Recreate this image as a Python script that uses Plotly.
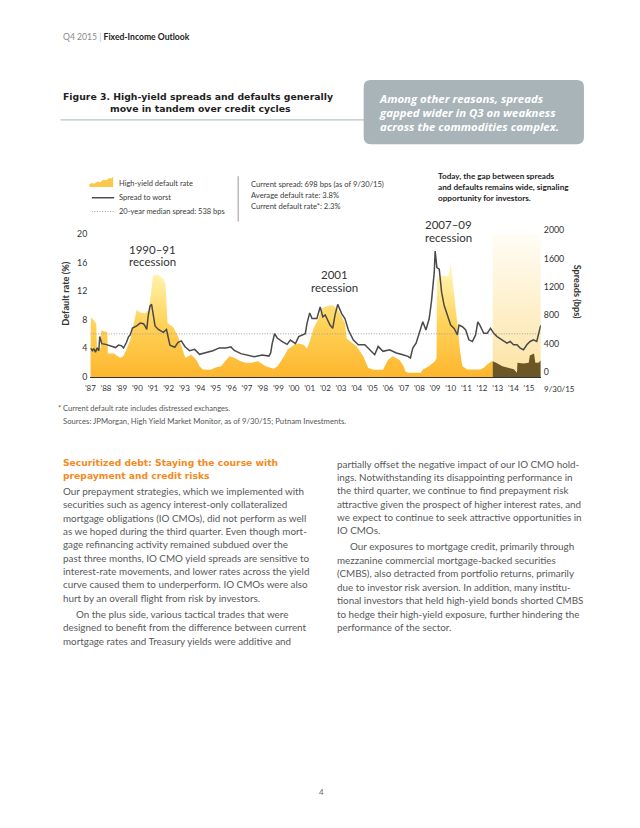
import plotly.graph_objects as go

W, H = 640, 828
FONT = "Lato"
BOLD_FONT = "DejaVu Sans"

# ---------------- data ----------------
default_years = [1987.0, 1987.03, 1987.2, 1987.38, 1987.42, 1987.66, 1987.69, 1988.08, 1988.12, 1988.5,
                 1988.9, 1989.1, 1989.3, 1989.55, 1989.75, 1989.86, 1989.96, 1990.18, 1990.5, 1990.7,
                 1990.87, 1991.0, 1991.33, 1991.65, 1991.8, 1991.93, 1992.28, 1992.6, 1992.9, 1993.06,
                 1993.44, 1993.76, 1993.97, 1994.18, 1994.7, 1994.93, 1995.34, 1995.66, 1995.87, 1996.19,
                 1996.6, 1996.9, 1997.3, 1997.7, 1998.2, 1998.7, 1998.95, 1999.37, 1999.58, 2000.0,
                 2000.3, 2000.63, 2000.83, 2001.04, 2001.25, 2001.57, 2001.78, 2002.2, 2002.5, 2002.73,
                 2002.94, 2003.25, 2003.36, 2003.57, 2003.99, 2004.42, 2004.73, 2005.05, 2005.68, 2006.0,
                 2006.3, 2006.72, 2007.0, 2007.1, 2007.27, 2008.1, 2008.2, 2008.6, 2009.0, 2009.1,
                 2009.12, 2009.43, 2009.85, 2010.0, 2010.06, 2010.2, 2010.43, 2010.6, 2010.75, 2011.07,
                 2011.9, 2012.11, 2012.33, 2012.54, 2012.68, 2012.9, 2013.3, 2013.72, 2014.03, 2014.23,
                 2014.26, 2014.65, 2014.98, 2015.05, 2015.32, 2015.4, 2015.6, 2015.75]
default_rate = [3.8, 8.3, 8.0, 7.4, 4.2, 4.0, 6.5, 6.3, 3.3, 3.3,
                2.7, 2.9, 3.8, 5.2, 7.3, 8.6, 9.4, 9.0, 8.9, 9.3,
                11.6, 14.2, 14.3, 13.7, 13.0, 7.5, 7.0, 5.7, 3.8, 2.7,
                3.1, 2.4, 1.5, 1.05, 1.0, 1.3, 1.5, 2.4, 2.9, 2.7,
                2.2, 2.0, 2.0, 2.2, 1.5, 1.15, 1.5, 2.9, 3.8, 4.5,
                4.7, 4.5, 4.0, 5.2, 6.8, 8.2, 9.6, 10.0, 10.0, 9.6,
                8.9, 7.5, 5.4, 5.0, 4.3, 2.9, 1.3, 1.0, 1.0, 2.4,
                2.9, 2.4, 1.5, 0.8, 0.6, 0.6, 1.0, 1.5, 2.2, 2.7,
                13.7, 14.2, 14.0, 16.0, 14.6, 11.9, 7.3, 3.6, 1.5, 1.05,
                1.05, 1.3, 1.75, 2.1, 2.2, 2.0, 1.5, 1.3, 1.1, 0.6,
                2.0, 1.9, 2.0, 3.0, 3.3, 2.0, 2.0, 2.3]

spread_years = [1987.01, 1987.13, 1987.22, 1987.33, 1987.43, 1987.54, 1987.6, 1987.73, 1987.98, 1988.28,
                1988.61, 1988.8, 1989.0, 1989.12, 1989.31, 1989.44, 1989.54, 1989.69, 1989.86, 1989.96,
                1990.18, 1990.39, 1990.49, 1990.6, 1990.7, 1990.81, 1990.91, 1990.97, 1991.13, 1991.34,
                1991.66, 1991.86, 1991.97, 1992.08, 1992.39, 1992.6, 1992.81, 1993.03, 1993.34, 1993.66,
                1993.97, 1994.39, 1994.82, 1995.24, 1995.66, 1995.97, 1996.19, 1996.61, 1997.03, 1997.46,
                1997.98, 1998.4, 1998.51, 1998.61, 1998.76, 1998.93, 1999.25, 1999.56, 1999.77, 2000.09,
                2000.3, 2000.72, 2000.83, 2001.0, 2001.15, 2001.46, 2001.67, 2001.84, 2001.99, 2002.3,
                2002.47, 2002.62, 2002.79, 2003.04, 2003.25, 2003.47, 2003.78, 2004.1, 2004.52, 2004.84,
                2005.15, 2005.37, 2005.68, 2006.1, 2006.53, 2006.95, 2007.27, 2007.43, 2007.58, 2007.79,
                2008.0, 2008.22, 2008.42, 2008.63, 2008.78, 2008.95, 2009.01, 2009.12, 2009.27, 2009.42,
                2009.58, 2009.8, 2010.0, 2010.22, 2010.43, 2010.53, 2010.75, 2010.96, 2011.16, 2011.38,
                2011.59, 2011.73, 2011.86, 2012.11, 2012.33, 2012.54, 2012.75, 2012.96, 2013.28, 2013.59,
                2013.8, 2014.01, 2014.23, 2014.44, 2014.65, 2014.86, 2015.07, 2015.28, 2015.49, 2015.59,
                2015.75]
spread_bps = [338, 300, 330, 280, 340, 300, 500, 400, 390, 370,
              345, 380, 370, 340, 420, 500, 520, 620, 640, 650,
              690, 680, 650, 600, 800, 930, 955, 880, 650, 600,
              560, 600, 490, 380, 350, 420, 440, 360, 300, 320,
              250, 270, 300, 340, 340, 355, 305, 260, 235, 215,
              240, 225, 270, 405, 540, 480, 430, 390, 450, 400,
              500, 540, 685, 833, 755, 755, 917, 778, 805, 662,
              615, 805, 953, 824, 755, 593, 454, 385, 385, 315,
              245, 361, 292, 315, 268, 245, 222, 199, 338, 407,
              546, 708, 593, 754, 1010, 1403, 1704, 1472, 1449, 1125,
              940, 801, 662, 615, 523, 662, 639, 593, 454, 431,
              523, 708, 662, 546, 546, 615, 546, 500, 454, 407,
              431, 385, 385, 338, 315, 385, 431, 454, 431, 523,
              660]

MEDIAN_SPREAD = 538
HIGHLIGHT_START = 2012.68
DATA_START = 1987.0
DATA_END = 2015.75
HIGHLIGHT_TOP = 20.1

left_ticks = [0, 4, 8, 12, 16, 20]
right_ticks = [0, 400, 800, 1200, 1600, 2000]
year_ticks = list(range(1987, 2016))
year_labels = ["'" + str(y)[2:] for y in year_ticks]

title_lines = ["Figure 3. High-yield spreads and defaults generally", "move in tandem over credit cycles"]
legend_labels = ["High-yield default rate", "Spread to worst", "20-year median spread: 538 bps"]
stats_lines = ["Current spread: 698 bps (as of 9/30/15)", "Average default rate: 3.8%",
               "Current default rate*: 2.3%"]
today_lines = ["Today, the gap between spreads", "and defaults remains wide, signaling",
               "opportunity for investors."]
callout_lines = ["Among other reasons, spreads", "gapped wider in Q3 on weakness",
                 "across the commodities complex."]
heading_lines = ["Securitized debt: Staying the course with", "prepayment and credit risks"]

left_p1 = [
    "Our prepayment strategies, which we implemented with",
    "securities such as agency interest-only collateralized",
    "mortgage obligations (IO CMOs), did not perform as well",
    "as we hoped during the third quarter. Even though mort-",
    "gage refinancing activity remained subdued over the",
    "past three months, IO CMO yield spreads are sensitive to",
    "interest-rate movements, and lower rates across the yield",
    "curve caused them to underperform. IO CMOs were also",
    "hurt by an overall flight from risk by investors.",
]
left_p2 = [
    "On the plus side, various tactical trades that were",
    "designed to benefit from the difference between current",
    "mortgage rates and Treasury yields were additive and",
]
right_p1 = [
    "partially offset the negative impact of our IO CMO hold-",
    "ings. Notwithstanding its disappointing performance in",
    "the third quarter, we continue to find prepayment risk",
    "attractive given the prospect of higher interest rates, and",
    "we expect to continue to seek attractive opportunities in",
    "IO CMOs.",
]
right_p2 = [
    "Our exposures to mortgage credit, primarily through",
    "mezzanine commercial mortgage-backed securities",
    "(CMBS), also detracted from portfolio returns, primarily",
    "due to investor risk aversion. In addition, many institu-",
    "tional investors that held high-yield bonds shorted CMBS",
    "to hedge their high-yield exposure, further hindering the",
    "performance of the sector.",
]

# ---------------- helpers ----------------
def px(x):
    return x / W


def py(y):
    return 1 - y / H


annotations = []


def txt(x, y, s, size, color="#333333", anchor="left", angle=0, family=FONT, align="left"):
    annotations.append(dict(x=px(x), y=py(y), xref="paper", yref="paper", text=s, showarrow=False,
                            xanchor=anchor, yanchor="middle", textangle=angle, align=align,
                            font=dict(family=family, size=size, color=color)))


def block(x, y_first, lines, size, spacing, color, family=FONT, bold=False, italic=False):
    """Multi-line text as one annotation; line pitch set by base font size, glyph size by span."""
    parts = []
    for s in lines:
        if bold:
            s = f"<b>{s}</b>"
        if italic:
            s = f"<i>{s}</i>"
        parts.append(f"<span style='font-size:{size}px'>{s}</span>")
    y_mid = y_first + spacing * (len(lines) - 1) / 2
    annotations.append(dict(x=px(x), y=py(y_mid), xref="paper", yref="paper", text="<br>".join(parts),
                            showarrow=False, xanchor="left", yanchor="middle", align="left",
                            font=dict(family=family, size=spacing / 1.3, color=color)))


DOT = "1px,1.6px"

# ---------------- traces ----------------
fig = go.Figure()

# highlight band (recent period)
fig.add_trace(go.Scatter(
    x=[HIGHLIGHT_START, DATA_END, DATA_END, HIGHLIGHT_START, HIGHLIGHT_START],
    y=[0, 0, HIGHLIGHT_TOP, HIGHLIGHT_TOP, 0],
    fill="toself", mode="lines", line=dict(width=0, color="rgba(0,0,0,0)"),
    fillgradient=dict(type="vertical", colorscale=[[0, "#fce3a2"], [1, "#fffdf6"]],
                      start=0, stop=HIGHLIGHT_TOP),
    hoverinfo="skip", showlegend=False))

split = default_years.index(HIGHLIGHT_START)
fig.add_trace(go.Scatter(
    x=default_years[:split + 1], y=default_rate[:split + 1],
    fill="tozeroy", mode="lines", line=dict(width=0, color="rgba(0,0,0,0)"),
    fillgradient=dict(type="vertical",
                      colorscale=[[0, "#fdb52c"], [0.5, "#ffd258"], [1, "#fff6b4"]],
                      start=0, stop=15),
    hoverinfo="skip", showlegend=False))
fig.add_trace(go.Scatter(
    x=default_years[split:], y=default_rate[split:],
    fill="tozeroy", mode="lines", line=dict(width=0, color="rgba(0,0,0,0)"),
    fillcolor="#6d5625", hoverinfo="skip", showlegend=False))

fig.add_trace(go.Scatter(
    x=[DATA_START, DATA_END], y=[MEDIAN_SPREAD, MEDIAN_SPREAD], yaxis="y2",
    mode="lines", line=dict(color="#a0a0a0", width=1, dash=DOT),
    hoverinfo="skip", showlegend=False))

fig.add_trace(go.Scatter(
    x=spread_years, y=spread_bps, yaxis="y2", mode="lines",
    line=dict(color="#4a4a4a", width=1.5), hoverinfo="skip", showlegend=False))

# ---------------- shapes ----------------
shapes = []
# rule under figure title
shapes.append(dict(type="line", xref="paper", yref="paper", x0=px(56), x1=px(362), y0=py(115.5), y1=py(115.5),
                   line=dict(color="#b9c4c7", width=1.2)))
# callout box with rounded corners
x0, x1, y0, y1, r = 361.5, 583.5, 75, 140, 7
path = (f"M {px(x0 + r)},{py(y0)} L {px(x1 - r)},{py(y0)} Q {px(x1)},{py(y0)} {px(x1)},{py(y0 + r)} "
        f"L {px(x1)},{py(y1 - r)} Q {px(x1)},{py(y1)} {px(x1 - r)},{py(y1)} "
        f"L {px(x0 + r)},{py(y1)} Q {px(x0)},{py(y1)} {px(x0)},{py(y1 - r)} "
        f"L {px(x0)},{py(y0 + r)} Q {px(x0)},{py(y0)} {px(x0 + r)},{py(y0)} Z")
shapes.append(dict(type="path", xref="paper", yref="paper", path=path, fillcolor="#a8b4b8",
                   line=dict(width=0)))
# legend swatches
mpts = [(85, 183.5), (85, 180.5), (88, 179.5), (90, 180.2), (93, 177.8), (96, 178.5), (99, 176),
        (102, 176.6), (105, 174.3), (107, 174.8), (109, 173), (109, 183.5)]
mpath = "M " + " L ".join(f"{px(a)},{py(b)}" for a, b in mpts) + " Z"
shapes.append(dict(type="path", xref="paper", yref="paper", path=mpath, fillcolor="#fdc94c",
                   line=dict(width=0)))
shapes.append(dict(type="line", xref="paper", yref="paper", x0=px(87.5), x1=px(110), y0=py(194.3), y1=py(194.3),
                   line=dict(color="#4a4a4a", width=1.5)))
shapes.append(dict(type="line", xref="paper", yref="paper", x0=px(87.5), x1=px(110), y0=py(208.3), y1=py(208.3),
                   line=dict(color="#a0a0a0", width=1, dash=DOT)))
# divider
shapes.append(dict(type="line", xref="paper", yref="paper", x0=px(235), x1=px(235), y0=py(172.5), y1=py(218.5),
                   line=dict(color="#999999", width=1)))

# ---------------- text ----------------
txt(56.5, 31.7, "<span style='color:#8a8a8a'>Q4 2015</span> <span style='color:#bbbbbb'>|</span> "
                "<b>Fixed-Income Outlook</b>", 8.6, "#222222")
# figure title (second line indented)
txt(56.5, 91.4, f"<b>{title_lines[0]}</b>", 9.3, "#1e1e1e", family=BOLD_FONT)
txt(104, 103.7, f"<b>{title_lines[1]}</b>", 9.3, "#1e1e1e", family=BOLD_FONT)
block(374.5, 94.3, callout_lines, 11.4, 14, "#ffffff", family="Open Sans", bold=True, italic=True)

for i, s in enumerate(legend_labels):
    txt(113, 180.3 + 14 * i, s, 7.5, "#3a3a3a")
for i, s in enumerate(stats_lines):
    txt(246, 180.3 + 11 * i, s, 7.6, "#3a3a3a")
for i, s in enumerate(today_lines):
    txt(434, 172.7 + 11 * i, f"<b>{s}</b>", 8.2, "#1e1e1e")

txt(148.3, 246.7, "1990–91", 11.5, "#333333", anchor="center")
txt(148.3, 259, "recession", 11.5, "#333333", anchor="center")
txt(331.7, 272, "2001", 11.5, "#333333", anchor="center")
txt(331.7, 285.3, "recession", 11.5, "#333333", anchor="center")
txt(446.7, 221.7, "2007–09", 11.5, "#333333", anchor="center")
txt(446.7, 234.5, "recession", 11.5, "#333333", anchor="center")

txt(61, 292, "<b>Default rate (%)</b>", 9.2, "#333333", anchor="center", angle=-90)
txt(577, 290, "<b>Spreads (bps)</b>", 9.2, "#333333", anchor="center", angle=90)
txt(541, 388.5, "9/30/15", 8, "#333333")

txt(51.5, 407.7, "* Current default rate includes distressed exchanges.", 7.5, "#555555")
txt(56.7, 421, "Sources: JPMorgan, High Yield Market Monitor, as of 9/30/15; Putnam Investments.", 7.7, "#555555")

txt(56.7, 462.8, f"<b>{heading_lines[0]}</b>", 9.2, "#f58a1f", family=BOLD_FONT)
txt(56.7, 475.8, f"<b>{heading_lines[1]}</b>", 9.2, "#f58a1f", family=BOLD_FONT)

BODY = 9.85
BODYC = "#58595b"
for i, s in enumerate(left_p1):
    txt(56.7, 491.7 + 13.5 * i, s, BODY, BODYC)
for i, s in enumerate(left_p2):
    txt(69.3 if i == 0 else 56.7, 616.2 + 13.6 * i, s, BODY, BODYC)
for i, s in enumerate(right_p1):
    txt(332.7, 464 + 13.4 * i, s, BODY, BODYC)
for i, s in enumerate(right_p2):
    txt(346 if i == 0 else 332.7, 547.7 + 13.6 * i, s, BODY, BODYC)

txt(318.5, 797, "4", 8, "#666666", anchor="center")

# ---------------- layout ----------------
fig.update_layout(
    width=W, height=H, margin=dict(l=0, r=0, t=0, b=0),
    paper_bgcolor="white", plot_bgcolor="rgba(0,0,0,0)",
    font=dict(family=FONT, color="#333333"),
    showlegend=False,
    xaxis=dict(domain=[px(86), px(540)], range=[DATA_START, DATA_END],
               tickvals=year_ticks, ticktext=year_labels, tickfont=dict(size=8, color="#333333"),
               showgrid=False, zeroline=False, showline=True, linecolor="#333333", linewidth=1.2,
               ticks="", ticklabelstandoff=3, fixedrange=True),
    yaxis=dict(domain=[py(376), py(227)], range=[0, 20.55], tickvals=left_ticks,
               tickfont=dict(size=8.8, color="#333333"), showgrid=False, zeroline=False,
               showline=False, ticks="", ticklabelstandoff=2, fixedrange=True),
    yaxis2=dict(overlaying="y", side="right", anchor="x", range=[-69.4, 2001], tickvals=right_ticks,
                tickfont=dict(size=8.8, color="#333333"), showgrid=False, zeroline=False,
                showline=False, ticks="", ticklabelstandoff=2, fixedrange=True),
    shapes=shapes, annotations=annotations,
)

fig.write_html("out.html", config={"displayModeBar": False},
               post_script="document.body.style.margin='0';document.body.style.overflow='hidden';")
